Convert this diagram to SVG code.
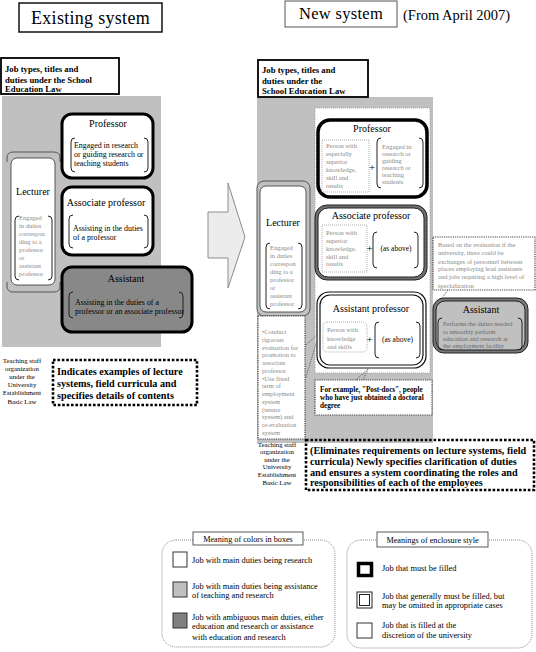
<svg xmlns="http://www.w3.org/2000/svg" width="536" height="652" viewBox="0 0 536 652" font-family="Liberation Serif, Times New Roman, DejaVu Serif, serif">
<style>
text{font-family:'Liberation Serif','Times New Roman','DejaVu Serif',serif;fill:#000}
.hdr{font-size:8.7px;font-weight:bold}
.ttl{font-size:10px;text-anchor:middle}
.bt{font-size:7.9px}
.gs{font-size:6.5px;fill:#8a8a8a}
.gr{font-size:6.4px;fill:#6a6a6a}
.lg{font-size:8.4px}
.st{font-size:6.8px;text-anchor:middle}
.big{font-size:10.2px;font-weight:bold}
.brk{fill:none;stroke:#222;stroke-width:1}
.dotw{fill:#fff;stroke:#999;stroke-width:0.8;stroke-dasharray:1 1}
.note{fill:#fff;stroke:#444;stroke-width:1.2;stroke-dasharray:1.2 1}
.thick{fill:none;stroke:#000;stroke-width:2.6;stroke-dasharray:2.6 1.8}
.call{fill:none;stroke:#666;stroke-width:1;stroke-dasharray:1.2 1}
</style>
<rect width="536" height="652" fill="#fff"/>

<g id="title-existing">
<rect x="19" y="3" width="143" height="29" fill="#fff" stroke="#000" stroke-width="1.4"/>
<text x="90.5" y="24" font-size="18" text-anchor="middle" letter-spacing="0.3">Existing system</text>
</g>
<g id="title-new">
<rect x="285" y="1" width="112" height="26" fill="#fff" stroke="#555" stroke-width="1"/>
<text x="341" y="19" font-size="16.5" text-anchor="middle" letter-spacing="0.3">New system</text>
<text x="403" y="20" font-size="14.5">(From April 2007)</text>
</g>

<!-- LEFT -->
<rect id="left-panel" x="2" y="96" width="159" height="251" fill="#c0c0c0"/>
<g id="left-header">
<rect x="1" y="58" width="118" height="36" fill="#fff" stroke="#000" stroke-width="1.8"/>
<text class="hdr" x="5" y="72">Job types, titles and</text>
<text class="hdr" x="5" y="82.5">duties under the School</text>
<text class="hdr" x="5" y="92">Education Law</text>
</g>

<g id="left-lecturer">
<path d="M7 162 V158 Q7 152 13 152 H54 Q60 152 60 158 V162 M7 282 V286 Q7 292 13 292 H54 Q60 292 60 286 V282" fill="none" stroke="#555" stroke-width="1"/>
<rect x="11" y="158" width="44" height="127" rx="6" fill="#fff" stroke="#333" stroke-width="0.8"/>
<text class="ttl" x="33" y="194.5">Lecturer</text>
<path class="brk" d="M19 216 Q15 216 15 220 V276 Q15 280 19 280 M48 216 Q52 216 52 220 V276 Q52 280 48 280"/>
<text class="gs" x="19" y="220">Engaged</text>
<text class="gs" x="19" y="228">in duties</text>
<text class="gs" x="19" y="236">correspon</text>
<text class="gs" x="19" y="244">ding to a</text>
<text class="gs" x="19" y="252">professor</text>
<text class="gs" x="19" y="260">or</text>
<text class="gs" x="19" y="268">assistant</text>
<text class="gs" x="19" y="276">professor</text>
</g>

<g id="left-professor">
<rect x="62" y="114" width="91" height="64" rx="10" fill="#fff" stroke="#000" stroke-width="3"/>
<text class="ttl" x="108" y="126.5">Professor</text>
<path class="brk" d="M75 138 Q71 138 71 142 V168 Q71 172 75 172 M144 138 Q148 138 148 142 V168 Q148 172 144 172"/>
<text class="bt" x="74" y="148">Engaged in research</text>
<text class="bt" x="74" y="157">or guiding research or</text>
<text class="bt" x="74" y="166">teaching students</text>
</g>

<g id="left-associate">
<rect x="62" y="187" width="91" height="68" rx="10" fill="#fff" stroke="#000" stroke-width="3"/>
<text class="ttl" x="106" y="206" font-size="9">Associate professor</text>
<path class="brk" d="M73 215 Q69 215 69 219 V244 Q69 248 73 248 M144 215 Q148 215 148 219 V244 Q148 248 144 248"/>
<text class="bt" x="73" y="231">Assisting in the duties</text>
<text class="bt" x="73" y="240">of a professor</text>
</g>

<g id="left-assistant">
<rect x="62" y="267" width="130" height="65" rx="10" fill="#888" stroke="#000" stroke-width="3"/>
<text class="ttl" x="126" y="281.5">Assistant</text>
<path class="brk" d="M73 292 Q69 292 69 296 V314 Q69 318 73 318 M179 292 Q183 292 183 296 V314 Q183 318 179 318"/>
<text class="bt" x="75" y="304.5" font-size="7.7">Assisting in the duties of a</text>
<text class="bt" x="75" y="313.5" font-size="7.7">professor or an associate professor</text>
</g>

<g id="left-basic-law">
<text class="st" x="22" y="362.5">Teaching staff</text>
<text class="st" x="22" y="370.7">organization</text>
<text class="st" x="22" y="378.9">under the</text>
<text class="st" x="22" y="387.1">University</text>
<text class="st" x="22" y="395.3">Establishment</text>
<text class="st" x="22" y="403.5">Basic Law</text>
</g>

<g id="left-indicates">
<rect class="thick" x="53" y="360" width="144" height="45" fill="#fff"/>
<text class="big" x="57" y="375" font-size="9.8">Indicates examples of lecture</text>
<text class="big" x="57" y="387" font-size="9.8">systems, field curricula and</text>
<text class="big" x="57" y="398.5" font-size="9.8">specifies details of contents</text>
</g>

<!-- RIGHT -->
<rect id="right-panel" x="257" y="97" width="176" height="346" fill="#c0c0c0"/>
<g id="right-header">
<rect x="258" y="60" width="110" height="37" fill="#fff" stroke="#000" stroke-width="1.8"/>
<text class="hdr" x="262" y="73">Job types, titles and</text>
<text class="hdr" x="262" y="83.5">duties under the</text>
<text class="hdr" x="262" y="94">School Education Law</text>
</g>
<rect id="right-inner-panel" class="dotw" x="315" y="108" width="115" height="265"/>

<g id="right-professor">
<rect x="318" y="120" width="109" height="77" rx="12" fill="#fff" stroke="#000" stroke-width="3.5"/>
<text class="ttl" x="372" y="131.5" font-size="9.6">Professor</text>
<rect class="dotw" x="322" y="140" width="47" height="52" stroke="#bbb"/>
<text class="gs" x="326" y="147.5">Person with</text>
<text class="gs" x="326" y="155.5">especially</text>
<text class="gs" x="326" y="163.5">superior</text>
<text class="gs" x="326" y="171.5">knowledge,</text>
<text class="gs" x="326" y="179.5">skill and</text>
<text class="gs" x="326" y="187.5">results</text>
<text x="372" y="170.5" font-size="11" text-anchor="middle">+</text>
<path class="brk" d="M381 138 Q377 138 377 142 V184 Q377 188 381 188 M419 138 Q423 138 423 142 V184 Q423 188 419 188"/>
<text class="gs" x="382" y="149">Engaged in</text>
<text class="gs" x="382" y="156">research or</text>
<text class="gs" x="382" y="163">guiding</text>
<text class="gs" x="382" y="170">research or</text>
<text class="gs" x="382" y="177">teaching</text>
<text class="gs" x="382" y="184">students</text>
</g>

<g id="right-associate">
<rect x="315" y="205" width="112" height="75" rx="12" fill="#6e6e6e" stroke="#222" stroke-width="1"/>
<rect x="318" y="208" width="106" height="69" rx="10" fill="#fff" stroke="#222" stroke-width="1"/>
<text class="ttl" x="371" y="218.5" font-size="9.6">Associate professor</text>
<rect class="dotw" x="322" y="225" width="45" height="47" stroke="#bbb"/>
<text class="gs" x="326" y="235">Person with</text>
<text class="gs" x="326" y="243">superior</text>
<text class="gs" x="326" y="251">knowledge,</text>
<text class="gs" x="326" y="258.5">skill and</text>
<text class="gs" x="326" y="266">results</text>
<text x="369.5" y="251.5" font-size="11" text-anchor="middle">+</text>
<path class="brk" d="M377 232 Q373 232 373 236 V264 Q373 268 377 268 M414 232 Q418 232 418 236 V264 Q418 268 414 268"/>
<text x="396" y="250.5" font-size="7.5" text-anchor="middle">(as above)</text>
</g>

<g id="right-assistant-professor">
<rect x="317" y="292" width="109" height="76" rx="12" fill="#fff" stroke="#111" stroke-width="1.2"/>
<rect x="320" y="295" width="103" height="70" rx="10" fill="#fff" stroke="#111" stroke-width="1.2"/>
<text class="ttl" x="371" y="311.5" font-size="9.6">Assistant professor</text>
<rect class="dotw" x="323" y="322" width="44" height="30" rx="4" stroke="#bbb"/>
<text class="gs" x="327" y="332">Person with</text>
<text class="gs" x="327" y="340.5">knowledge</text>
<text class="gs" x="327" y="349">and skills</text>
<text x="369.5" y="342.5" font-size="11" text-anchor="middle">+</text>
<path class="brk" d="M379 322 Q375 322 375 326 V354 Q375 358 379 358 M416 322 Q420 322 420 326 V354 Q420 358 416 358"/>
<text x="397.5" y="341.5" font-size="7.5" text-anchor="middle">(as above)</text>
</g>

<g id="right-lecturer">
<rect x="257" y="181" width="53" height="135" rx="7" fill="none" stroke="#555" stroke-width="1"/>
<rect x="260" y="186" width="46" height="126" rx="6" fill="#fff" stroke="#333" stroke-width="0.8"/>
<text class="ttl" x="283" y="225.5">Lecturer</text>
<path class="brk" d="M270 243 Q266 243 266 247 V305 Q266 309 270 309 M298 243 Q302 243 302 247 V305 Q302 309 298 309"/>
<text class="gs" x="270" y="250">Engaged</text>
<text class="gs" x="270" y="258">in duties</text>
<text class="gs" x="270" y="266">correspon</text>
<text class="gs" x="270" y="274">ding to a</text>
<text class="gs" x="270" y="282">professor</text>
<text class="gs" x="270" y="290">or</text>
<text class="gs" x="270" y="298">assistant</text>
<text class="gs" x="270" y="306">professor</text>
</g>

<g id="right-lecturer-note">
<rect class="note" x="258" y="316" width="47" height="123"/>
<text class="gs" x="262" y="334">•Conduct</text>
<text class="gs" x="262" y="341.8">rigorous</text>
<text class="gs" x="262" y="349.5">evaluation for</text>
<text class="gs" x="262" y="357.3">promotion to</text>
<text class="gs" x="262" y="365">associate</text>
<text class="gs" x="262" y="372.8">professor</text>
<text class="gs" x="262" y="380.5">•Use fixed</text>
<text class="gs" x="262" y="388.3">term of</text>
<text class="gs" x="262" y="396">employment</text>
<text class="gs" x="262" y="403.8">system</text>
<text class="gs" x="262" y="411.5">(tenure</text>
<text class="gs" x="262" y="419.3">system) and</text>
<text class="gs" x="262" y="427">re-evaluation</text>
<text class="gs" x="262" y="434.8">system</text>
</g>

<g id="right-postdoc-note">
<rect class="note" x="315" y="380" width="117" height="35" stroke="#222"/>
<text x="320" y="391.5" font-size="7.2" font-weight="bold" fill="#111">For example, "Post-docs", people</text>
<text x="320" y="399.5" font-size="7.2" font-weight="bold" fill="#111">who have just obtained a doctoral</text>
<text x="320" y="407.5" font-size="7.2" font-weight="bold" fill="#111">degree</text>
</g>

<g id="right-exchange-note">
<rect class="note" x="433" y="237" width="102" height="53"/>
<text class="gs" x="438" y="247">Based on the evaluation if the</text>
<text class="gs" x="438" y="255.3">university, there could be</text>
<text class="gs" x="438" y="263.6">exchanges of personnel between</text>
<text class="gs" x="438" y="271.4">places employing lead assistants</text>
<text class="gs" x="438" y="279.4">and jobs requiring a high level of</text>
<text class="gs" x="438" y="287.6">specialization</text>
</g>

<g id="right-assistant">
<rect x="433" y="298" width="95" height="55" rx="11" fill="#777" stroke="#222" stroke-width="1"/>
<rect x="436" y="301" width="89" height="49" rx="9" fill="#c0c0c0" stroke="#222" stroke-width="1"/>
<text class="ttl" x="481" y="312.5">Assistant</text>
<path class="brk" d="M442 318 Q438 318 438 322 V346 Q438 350 442 350 M518 318 Q522 318 522 322 V346 Q522 350 518 350"/>
<text class="gr" x="443" y="326">Performs the duties needed</text>
<text class="gr" x="443" y="333.5">to smoothly perform</text>
<text class="gr" x="443" y="341">education and research at</text>
<text class="gr" x="443" y="348.3">the employment facility</text>
</g>

<g id="right-basic-law">
<text class="st" x="277" y="446.5">Teaching staff</text>
<text class="st" x="277" y="454">organization</text>
<text class="st" x="277" y="461.5">under the</text>
<text class="st" x="277" y="469">University</text>
<text class="st" x="277" y="476.5">Establishment</text>
<text class="st" x="277" y="484.5">Basic Law</text>
</g>

<g id="right-eliminates">
<rect class="thick" x="306" y="440" width="228" height="50" fill="#fff"/>
<text class="big" x="310" y="453.5">(Eliminates requirements on lecture systems, field</text>
<text class="big" x="310" y="464.5">curricula) Newly specifies clarification of duties</text>
<text class="big" x="310" y="475.5">and ensures a system coordinating the roles and</text>
<text class="big" x="310" y="486">responsibilities of each of the employees</text>
</g>

<g id="connectors">
<polygon points="208,212 228,212 228,183 245,237 228,288 228,258 208,258" fill="#ececec" stroke="#8c8c8c" stroke-width="1"/>
<path class="call" d="M306 345 L318 334 M306 377 L318 337"/>
<path class="call" d="M356 380 L368 369 M363 380 L368 369"/>
<path class="call" d="M448 290 L442 298"/>
</g>

<!-- LEGENDS -->
<g id="legend-colors">
<rect x="162" y="540" width="173" height="107" rx="14" fill="#fff" stroke="#888" stroke-width="1" stroke-dasharray="1 1"/>
<rect x="193" y="532" width="110" height="13" fill="#fff" stroke="#333" stroke-width="0.8"/>
<text x="248" y="541.5" font-size="8.2" text-anchor="middle">Meaning of colors in boxes</text>
<rect x="173" y="552" width="14" height="15" fill="#fff" stroke="#333" stroke-width="1"/>
<text class="lg" x="192" y="563">Job with main duties being research</text>
<rect x="173" y="582" width="14" height="15" fill="#c0c0c0" stroke="#333" stroke-width="1"/>
<text class="lg" x="192" y="589">Job with main duties being assistance</text>
<text class="lg" x="192" y="597.5">of teaching and research</text>
<rect x="173" y="613" width="14" height="15" fill="#808080" stroke="#333" stroke-width="1"/>
<text class="lg" x="192" y="619.5">Job with ambiguous main duties, either</text>
<text class="lg" x="192" y="628.5">education and research or assistance</text>
<text class="lg" x="192" y="640">with education and research</text>
</g>

<g id="legend-enclosure">
<rect x="347" y="540" width="185" height="108" rx="14" fill="#fff" stroke="#888" stroke-width="1" stroke-dasharray="1 1"/>
<rect x="377" y="532" width="111" height="15" fill="#fff" stroke="#333" stroke-width="0.8"/>
<text x="432.5" y="542.5" font-size="8.2" text-anchor="middle">Meanings of enclosure style</text>
<rect x="358.5" y="563.5" width="13" height="12" fill="#fff" stroke="#000" stroke-width="3.5"/>
<text class="lg" x="382" y="571">Job that must be filled</text>
<rect x="357" y="592" width="15" height="16" fill="#fff" stroke="#222" stroke-width="1"/>
<rect x="359.5" y="594.5" width="10" height="11" fill="#fff" stroke="#222" stroke-width="1"/>
<text class="lg" x="382" y="599">Job that generally must be filled, but</text>
<text class="lg" x="382" y="608">may be omitted in appropriate cases</text>
<rect x="357" y="623" width="15" height="15" fill="#fff" stroke="#333" stroke-width="1"/>
<text class="lg" x="382" y="628">Job that is filled at the</text>
<text class="lg" x="382" y="638">discretion of the university</text>
</g>
</svg>
